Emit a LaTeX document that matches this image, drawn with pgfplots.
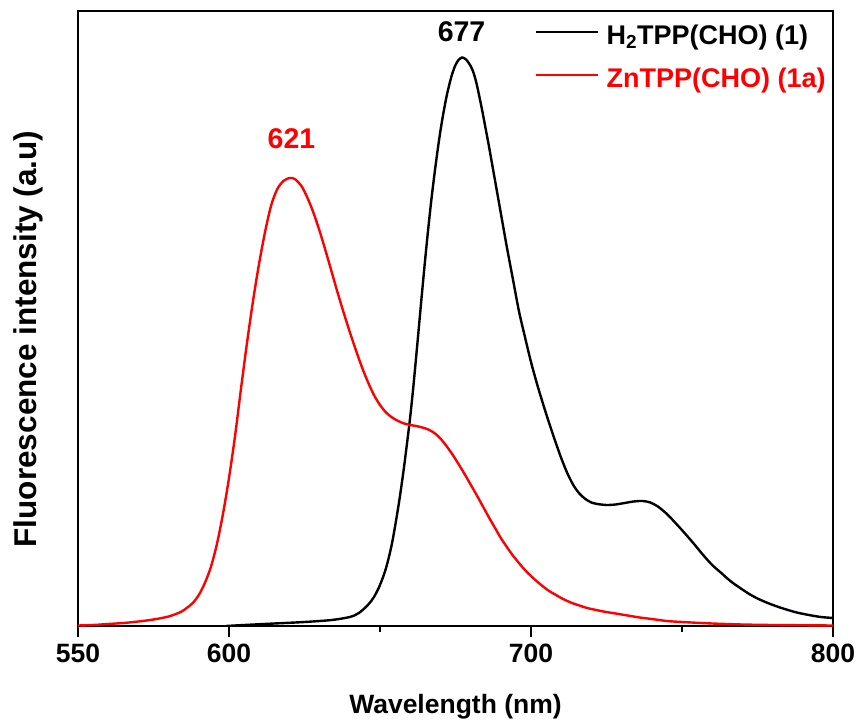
\documentclass[border=0pt]{standalone}
\usepackage{fontspec}
\setmainfont{Liberation Sans}
\usepackage{pgfplots}
\usepackage{pgfplotstable}
\pgfplotsset{compat=1.18}

\pgfplotstableread{
x y
599 0
605 1
615 2.5
625 4
634 6
640 9
643 13
646 21
648 29
650 41
652 58
654 83
656 118
657 138
658 160
659 184
660 209
661 238
662 270
663 303
664 336
665 368
666 398
667 426
668 451
669 474
670 495
671 513
672 529
673 542
674 553
675 561
676 566
677.2 568.5
678.5 566.5
680 560
681 553
682 542
683 528
684 513
685 497
686 481
688 447
690 413
692 379
694 347
696 315
698 289
700 264
702 242
704 222
706 203
708 185
710 168
712 153
714 141
716 132.5
718 127
720 123.5
722 122
725 121
728 121.5
731 123
734 124.5
737 125
739.5 123.5
742 119.5
745 112
748 102.5
751 92.5
754 82
757 71
760 61
763 53
766 45
769 38.5
772 32.5
775 27.5
778 23.5
781 20
784 17
788 13.5
792 11
796 9
800 8
}\blackdata

\pgfplotstableread{
x y
550 0.5
555 1
560 2
565 3
570 4.5
575 6.5
580 9.5
584 14
586 18
588 23
590 31
592 43
594 59
596 82
598 112
600 148
602 190
604 238
606 284
608 326
610 363
612 395
614 421
616 437
618 445
620 448
621 448
622 446.5
624 440
626 428
628 413
630 395
632 375
634 354
636 333
638 313
640 294
642 276
644 259
646 244
648 231
650 221
652 213.5
654 208.5
656 205
658 202.5
660 201
662 200
664 198.5
666 196.5
668 193
670 187.5
672 180
674 171.5
676 162
678 152
680 141.5
682 131
684 120
686 109
688 98.5
690 88
692 79
694 70.5
696 63
698 56
700 50
702 44.5
704 39.5
706 35
708 31.5
710 28
712 25
714 22.5
716 20.5
718 18.5
720 17
724 14.5
728 12.5
732 10.5
736 8.5
740 7
745 5
750 4
760 2.5
770 1.5
780 1
800 0.5
}\reddata

\newcommand{\bigfont}[1]{\fontsize{#1}{#1}\selectfont\bfseries}

\begin{document}
\begin{tikzpicture}
\begin{axis}[
  at={(0,0)}, anchor=south west,
  scale only axis, width=755bp, height=615bp,
  xmin=550, xmax=800, ymin=0, ymax=615,
  xtick={550,600,700,800}, minor xtick={650,750}, ytick=\empty,
  xtick pos=left, tick align=outside,
  major tick length=11bp, minor tick length=6bp,
  tick style={black, line width=2bp},
  axis line style={line width=2.3bp},
  /pgf/number format/assume math mode=true,
  /pgf/number format/set thousands separator={},
  xticklabel style={font=\bigfont{26.5bp}, yshift=-3bp},
  xlabel={Wavelength (nm)},
  xlabel style={at={(axis description cs:0.5,-0.1415)}, anchor=base, font=\bigfont{26.5bp}},
  ylabel={Fluorescence intensity (a.u)},
  ylabel style={at={(axis description cs:-0.0556,0.4667)}, anchor=base, font=\bigfont{31.5bp}},
  legend cell align=left,
  legend style={draw=none, fill=none, inner sep=0pt,
    at={(axis description cs:0.6053,0.982)}, anchor=north west,
    font=\bigfont{27bp},
    nodes={inner sep=0pt, text height=22bp, text depth=2bp},
    row sep=19bp, column sep=7bp},
  legend image code/.code={\draw[#1] (0bp,2bp) -- (62bp,2bp);},
]
\addplot[black, line width=2.4bp, smooth] table[x=x,y=y] {\blackdata};
\addlegendentry{H\textsubscript{2}TPP(CHO) (1)}
\addplot[red, line width=2.4bp, smooth] table[x=x,y=y] {\reddata};
\addlegendentry{\textcolor{red}{ZnTPP(CHO) (1a)}}
\node[anchor=base, text=red, font=\bigfont{28.5bp}] at (axis cs:620.7,477) {621};
\node[anchor=base, text=black, font=\bigfont{28.5bp}] at (axis cs:677,584) {677};
\end{axis}
\pgfresetboundingbox
\path[use as bounding box] (-78bp,-97bp) rectangle (782bp,626bp);
\end{tikzpicture}
\end{document}
